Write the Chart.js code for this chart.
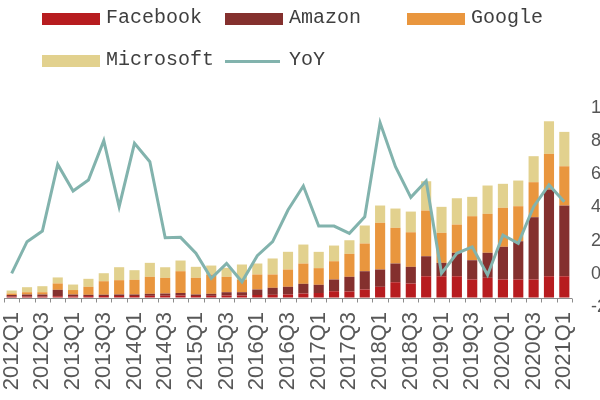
<!DOCTYPE html>
<html>
<head>
<meta charset="utf-8">
<script src="https://cdn.jsdelivr.net/npm/chart.js@4"></script>
<style>
  html, body { margin: 0; padding: 0; background: #fff; }
  #wrap { position: relative; width: 600px; height: 400px; overflow: hidden; background: #fff; }
  #c { position: absolute; left: 0; top: 0; }
  .lg { position: absolute; font-family: "Liberation Mono", "DejaVu Sans Mono", monospace; font-size: 20px; color: #3f3f3f; line-height: 24px; white-space: nowrap; }
  .bx { position: absolute; height: 12px; width: 58px; }
  .ln { position: absolute; height: 3px; width: 55px; }
</style>
</head>
<body>
<div id="wrap">
  <canvas id="c" width="640" height="400" style="width:640px;height:400px"></canvas>
  <div id="legend"></div>
</div>
<script>
const categories = [
  "2012Q1","2012Q2","2012Q3","2012Q4","2013Q1","2013Q2","2013Q3","2013Q4",
  "2014Q1","2014Q2","2014Q3","2014Q4","2015Q1","2015Q2","2015Q3","2015Q4",
  "2016Q1","2016Q2","2016Q3","2016Q4","2017Q1","2017Q2","2017Q3","2017Q4",
  "2018Q1","2018Q2","2018Q3","2018Q4","2019Q1","2019Q2","2019Q3","2019Q4",
  "2020Q1","2020Q2","2020Q3","2020Q4","2021Q1"
];
const facebook = [0.21,0.21,0.21,0.27,0.25,0.30,0.32,0.32,0.32,0.36,0.38,0.42,0.32,0.36,0.42,0.42,
  0.53,0.57,0.63,0.84,0.95,1.33,1.27,1.69,2.26,3.23,2.95,4.49,4.49,4.49,3.80,4.16,3.80,3.80,3.80,4.49,4.49];
const amazon = [0.32,0.42,0.42,1.35,0.38,0.27,0.27,0.32,0.32,0.42,0.46,0.53,0.32,0.42,0.70,0.70,
  1.16,1.48,1.63,2.05,1.73,2.47,3.10,3.86,3.65,3.95,3.52,4.22,2.83,4.94,4.07,5.28,6.90,8.08,13.15,18.30,14.92];
const google = [0.32,0.49,0.49,1.35,0.95,1.69,2.85,3.02,3.10,3.59,3.31,4.60,3.52,4.07,3.25,2.68,
  3.17,2.81,3.65,4.28,3.52,3.86,4.85,5.85,9.86,7.53,7.30,9.65,6.33,5.97,9.29,8.23,8.23,7.39,7.39,7.53,8.29];
const microsoft = [0.63,1.06,1.27,1.27,1.16,1.69,1.69,2.74,2.03,2.95,2.24,2.26,2.32,1.90,1.90,3.17,
  2.32,3.38,3.74,4.01,3.44,3.31,2.87,3.80,3.65,4.07,4.37,6.18,5.49,5.55,4.09,5.97,5.07,5.42,5.49,6.88,7.26];
const yoy = [0.3,19.4,25.8,66.0,49.9,56.6,80.3,40.5,78.7,67.6,21.8,22.0,12.4,-2.7,6.3,-4.8,
  10.9,19.4,38.5,53.0,28.8,28.8,24.4,34.4,91.1,64.6,46.1,56.0,0.3,12.4,16.3,-0.7,23.4,18.4,40.5,53.6,43.5];
const yoyTicks = [-20, 0, 20, 40, 60, 80, 100];

const colors = { Facebook: "#b71c1f", Amazon: "#84302e", Google: "#e9963e", Microsoft: "#e2d18e", YoY: "#82b3ad" };

// HTML legend
const legendItems = [
  { label: "Facebook", type: "box", x: 42, y: 19 },
  { label: "Amazon", type: "box", x: 225, y: 19 },
  { label: "Google", type: "box", x: 407, y: 19 },
  { label: "Microsoft", type: "box", x: 42, y: 61 },
  { label: "YoY", type: "line", x: 225, y: 61 }
];
const lg = document.getElementById("legend");
legendItems.forEach(it => {
  const m = document.createElement("div");
  if (it.type === "box") {
    m.className = "bx"; m.style.left = it.x + "px"; m.style.top = (it.y - 6) + "px";
  } else {
    m.className = "ln"; m.style.left = it.x + "px"; m.style.top = (it.y - 1) + "px";
  }
  m.style.background = colors[it.label];
  lg.appendChild(m);
  const t = document.createElement("div");
  t.className = "lg"; t.textContent = it.label;
  t.style.left = (it.x + 64) + "px"; t.style.top = (it.y - 13) + "px";
  lg.appendChild(t);
});

const baseline = {
  id: "baseline",
  beforeDatasetsDraw(chart) {
    const { ctx, chartArea, scales: { x, y } } = chart;
    const py = Math.round(y.getPixelForValue(0)) + 0.5;
    const n = categories.length;
    const step = (chartArea.right - chartArea.left) / n;
    ctx.save();
    ctx.strokeStyle = "#8c8c8c";
    ctx.lineWidth = 1;
    ctx.beginPath();
    ctx.moveTo(chartArea.left, py);
    ctx.lineTo(chartArea.right, py);
    for (let i = 0; i <= n; i++) {
      const px = Math.round(x.getPixelForValue(Math.min(i, n - 1)) + (i === n ? step / 2 : -step / 2)) + 0.5;
      ctx.moveTo(px, py);
      ctx.lineTo(px, py + 4);
    }
    ctx.stroke();
    ctx.restore();
  }
};

const barDs = (label, data) => ({
  type: "bar", label, data, backgroundColor: colors[label], borderWidth: 0,
  yAxisID: "y", order: 1, barPercentage: 0.66, categoryPercentage: 1.0, stack: "s"
});

new Chart(document.getElementById("c"), {
  data: {
    labels: categories,
    datasets: [
      { type: "line", label: "YoY", data: yoy, yAxisID: "y1", order: 0,
        borderColor: colors.YoY, borderWidth: 3, pointRadius: 0, tension: 0, fill: false },
      barDs("Facebook", facebook),
      barDs("Amazon", amazon),
      barDs("Google", google),
      barDs("Microsoft", microsoft)
    ]
  },
  options: {
    responsive: false,
    animation: false,
    layout: { padding: { top: 108, left: 0, right: 0, bottom: 0 } },
    plugins: { legend: { display: false }, tooltip: { enabled: false } },
    scales: {
      x: {
        stacked: true,
        offset: true,
        grid: { display: false, drawTicks: false },
        border: { display: false },
        ticks: {
          autoSkip: false, minRotation: 90, maxRotation: 90, padding: 5,
          color: "#585858", font: { family: "Liberation Sans", size: 22 },
          callback: (v, i) => (i % 2 === 0 ? categories[i] : "")
        },
        afterFit: s => { s.height = 93; }
      },
      y: {
        stacked: true,
        position: "left",
        min: -2, max: 40,
        grid: { display: false },
        border: { display: false },
        ticks: { display: false },
        afterFit: s => { s.width = 4; }
      },
      y1: {
        position: "right",
        min: -20, max: 100,
        grid: { display: false, drawTicks: false },
        border: { display: false },
        afterBuildTicks: s => { s.ticks = yoyTicks.map(v => ({ value: v })); },
        ticks: {
          padding: 19, color: "#555",
          font: { family: "Liberation Sans", size: 18 },
          callback: v => v + "%"
        },
        afterFit: s => { s.width = 68; }
      }
    }
  },
  plugins: [baseline]
});
</script>
</body>
</html>
